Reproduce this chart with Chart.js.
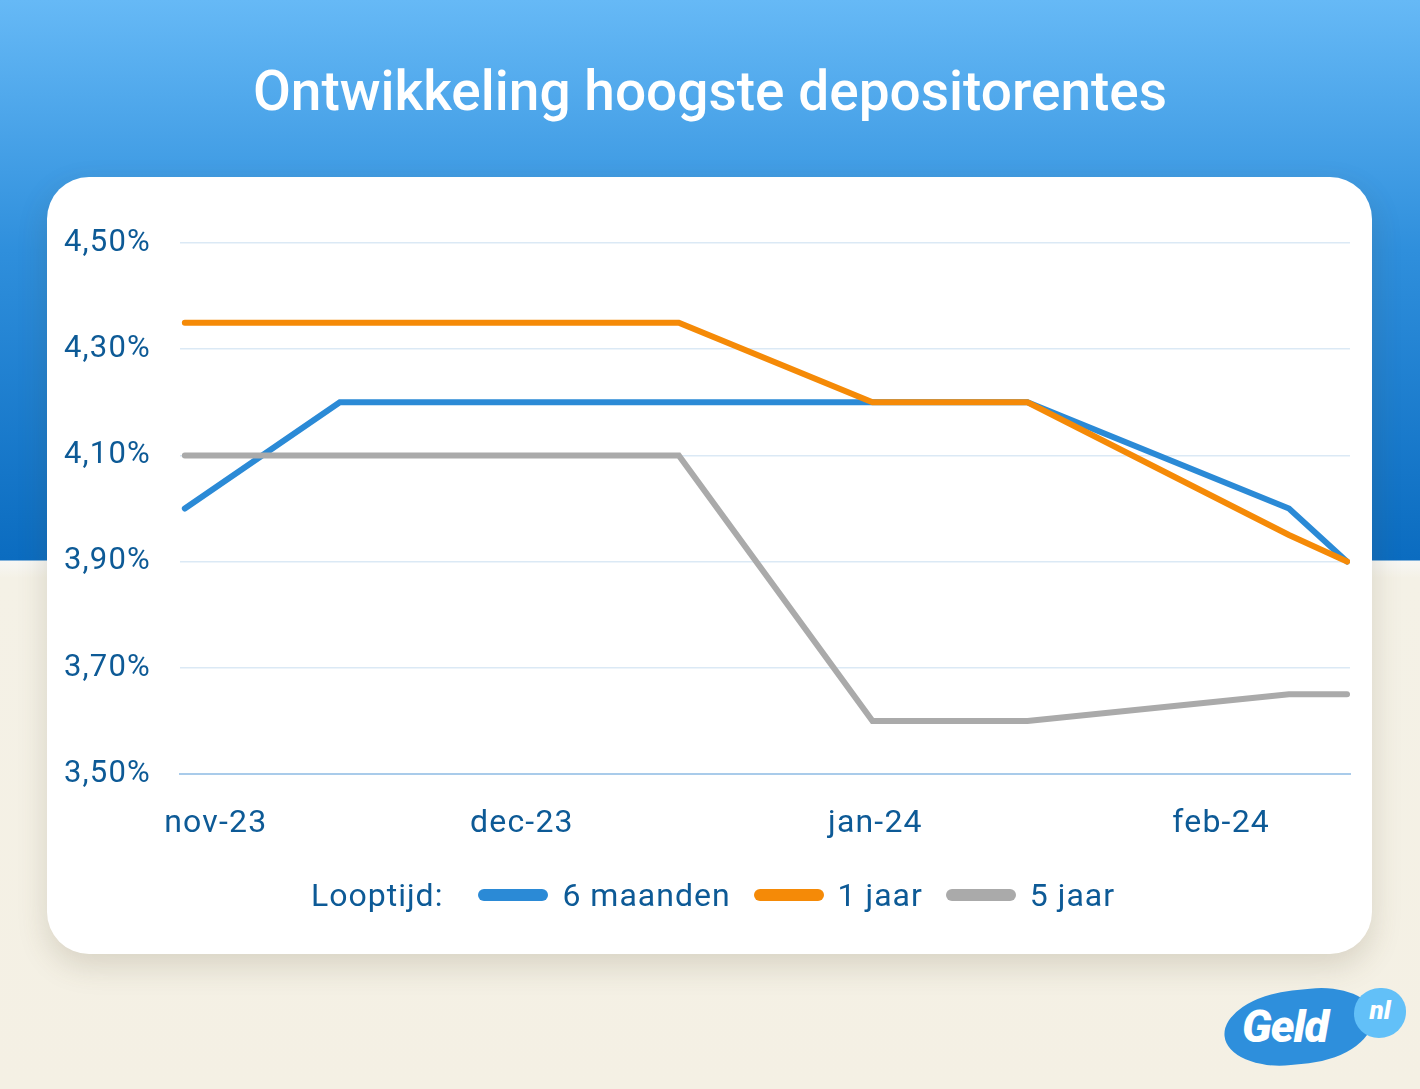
<!DOCTYPE html>
<html lang="nl">
<head>
<meta charset="utf-8">
<title>Ontwikkeling hoogste depositorentes</title>
<script src="https://cdn.jsdelivr.net/npm/chart.js@4.4.1/dist/chart.umd.min.js"></script>
<style>
  html, body { margin: 0; padding: 0; }
  body {
    width: 1420px; height: 1089px; position: relative; overflow: hidden;
    font-family: Roboto, "Noto Sans", sans-serif;
    background: linear-gradient(to bottom, #66b9f6 0px, #2f8fdc 250px, #0b6cc0 560px, #f7f7f4 561px, #f4f1e6 578px, #f4f0e4 1089px);
  }
  h1 {
    position: absolute; left: 0; top: 57px; width: 1420px; margin: 0;
    text-align: center; color: #fff; font-weight: 500; font-size: 55px; line-height: 68px;
  }
  .kaart {
    position: absolute; left: 47px; top: 177px; width: 1325px; height: 777px;
    background: #fff; border-radius: 42px;
    box-shadow: 0 12px 30px rgba(90, 80, 50, 0.18);
  }
  .kaart canvas { position: absolute; left: 0; top: 0; }
  #legenda {
    position: absolute; left: 264px; top: 696px; height: 44px;
    display: flex; align-items: center; color: #0d5a96; font-size: 32px; letter-spacing: 1px;
  }
  #legenda .titel { margin-right: 35px; }
  #legenda .streep { width: 70px; height: 12px; border-radius: 6px; margin-right: 14px; }
  #legenda .naam { margin-right: 23px; }
  .logo { position: absolute; left: 1224px; top: 986px; width: 190px; height: 84px; }
  .logo .blob {
    position: absolute; left: 0; top: 4px; width: 150px; height: 74px;
    background: #2e8fdc; border-radius: 48% 40% 46% 42% / 52% 44% 56% 48%;
    transform: rotate(-6deg);
  }
  .logo .geld {
    position: absolute; left: 18px; top: 11px; color: #fff; font-weight: 900;
    font-style: italic; font-size: 45px; line-height: 60px; letter-spacing: -1px;
  }
  .logo .nl {
    position: absolute; left: 130px; top: 2px; width: 52px; height: 50px;
    background: #62c0f8; border-radius: 50% 46% 52% 48%;
    color: #fff; font-weight: 900; font-style: italic; font-size: 26px;
    text-align: center; line-height: 44px;
  }
</style>
</head>
<body>
<h1>Ontwikkeling hoogste depositorentes</h1>
<div class="kaart">
  <canvas id="grafiek" width="1325" height="777"></canvas>
  <div id="legenda"></div>
</div>
<div class="logo">
  <div class="blob"></div>
  <div class="geld">Geld</div>
  <div class="nl">nl</div>
</div>
<script>
// dagen sinds 1 november 2023 (geschat uit de grafiek)
var dagen = [0, 16, 51, 71, 87, 114, 120];
var zesMaanden = [4.00, 4.20, 4.20, 4.20, 4.20, 4.00, 3.90];
var eenJaar = [4.35, 4.35, 4.35, 4.20, 4.20, 3.95, 3.90];
var vijfJaar = [4.10, 4.10, 4.10, 3.60, 3.60, 3.65, 3.65];
var seriesNamen = ['6 maanden', '1 jaar', '5 jaar'];
var seriesKleuren = ['#2b8ad6', '#f58a07', '#aaaaaa'];
var maandDagen = [3.2, 34.8, 71.3, 107];
var maandLabels = ['nov-23', 'dec-23', 'jan-24', 'feb-24'];

var tekstKleur = '#0d5a96';

function maakPunten(waarden){
    return waarden.map((w, i) => ({x: dagen[i], y: w}));
}

var reeksen = [zesMaanden, eenJaar, vijfJaar];
// volgorde van tekenen: grijs over blauw, oranje bovenop
var tekenVolgorde = [3, 1, 2];

const data = {
  datasets: reeksen.map((r, i) => ({
    label: seriesNamen[i],
    data: maakPunten(r),
    borderColor: seriesKleuren[i],
    backgroundColor: seriesKleuren[i],
    borderWidth: 6,
    pointRadius: 0,
    pointHoverRadius: 0,
    borderCapStyle: 'round',
    borderJoinStyle: 'miter',
    tension: 0,
    order: tekenVolgorde[i]
  }))
};

//iets meer ruimte tussen de letters, zoals in het origineel
const letterRuimte = {
  id: 'letterRuimte',
  beforeDraw: (chart) => { chart.ctx.letterSpacing = '1.2px'; }
};

const config = {
  type: 'line',
  data: data,
  plugins: [letterRuimte],
  options: {
    responsive: false,
    animation: false,
    layout: { padding: { top: 66, right: 22, left: 0, bottom: 0 } },
    plugins: { legend: { display: false }, tooltip: { enabled: false } },
    scales: {
      x: {
        type: 'linear',
        min: -0.5,
        max: 120.3,
        afterBuildTicks: (scale) => { scale.ticks = maandDagen.map(v => ({value: v})); },
        afterFit: (scale) => { scale.height = 180; },
        ticks: {
          autoSkip: false,
          maxRotation: 0,
          padding: 31,
          color: tekstKleur,
          font: { family: 'Roboto', size: 32 },
          callback: (v, i) => maandLabels[i]
        },
        grid: { display: false, drawTicks: false },
        border: { display: true, color: '#a9cbea', width: 2 }
      },
      y: {
        min: 3.5,
        max: 4.5,
        afterBuildTicks: (scale) => {
          var t = [];
          for (var k = 0; k <= 5; k++) t.push({value: 3.5 + 0.2 * k});
          scale.ticks = t;
        },
        afterFit: (scale) => { scale.width = 133; },
        ticks: {
          padding: 29,
          color: tekstKleur,
          font: { family: 'Roboto', size: 31 },
          callback: (v) => v.toFixed(2).replace('.', ',') + '%'
        },
        grid: { color: '#dbe9f5', lineWidth: 1.5, drawTicks: false },
        border: { display: false }
      }
    }
  }
};

var mijnGrafiek = new Chart(document.getElementById('grafiek'), config);

//legenda in html
var legenda = document.getElementById('legenda');
var html = '<span class="titel">Looptijd:</span>';
seriesNamen.forEach((naam, i) => {
    html += `<span class="streep" style="background:${seriesKleuren[i]}"></span><span class="naam">${naam}</span>`;
});
legenda.innerHTML = html;
</script>
</body>
</html>
